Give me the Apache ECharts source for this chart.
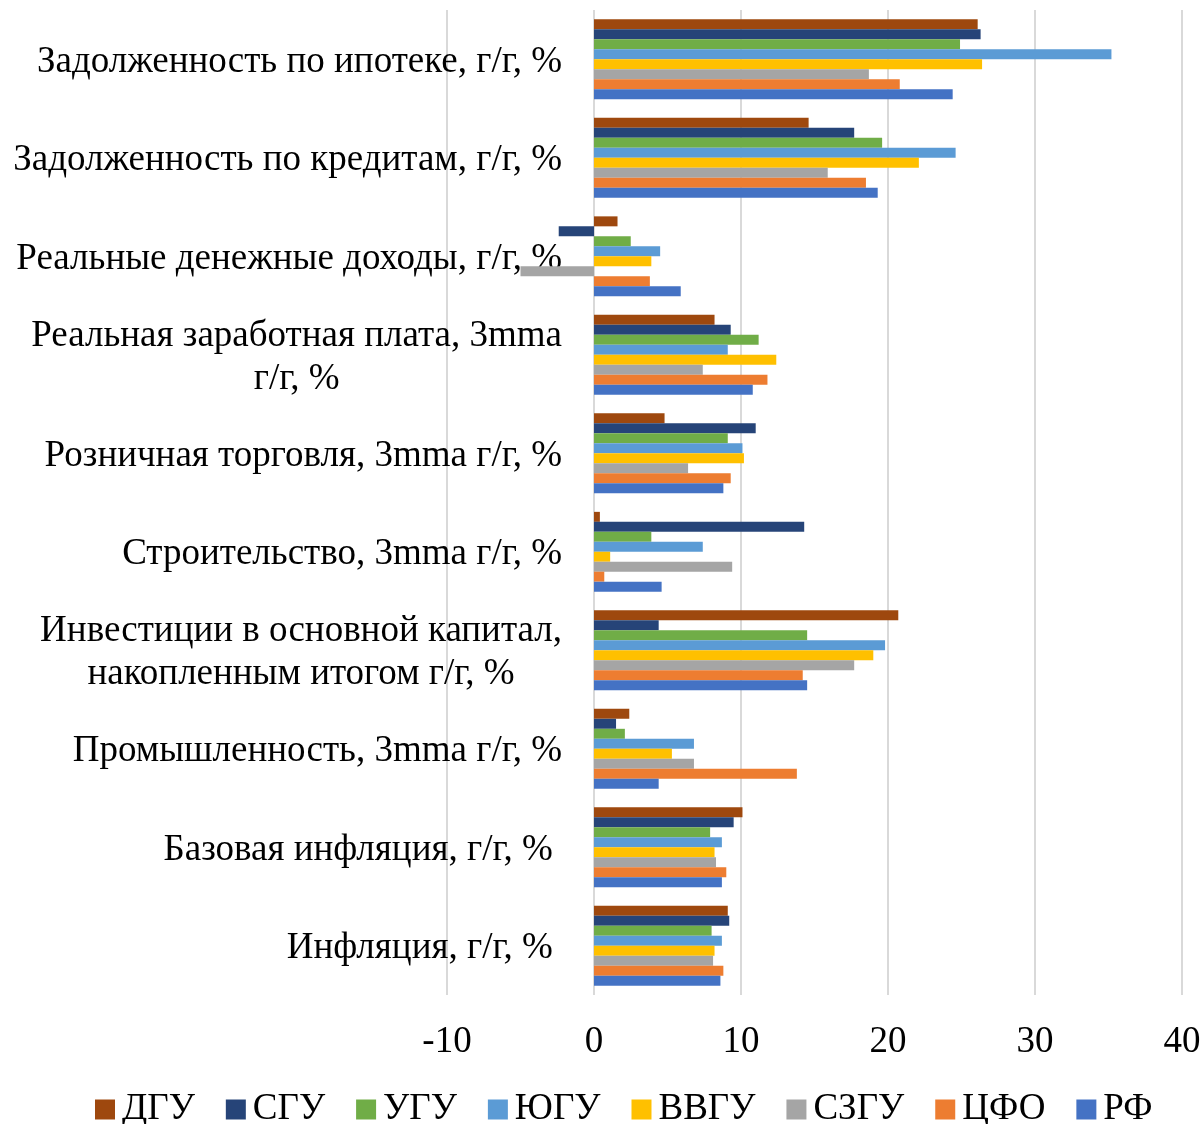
<!DOCTYPE html>
<html>
<head>
<meta charset="utf-8">
<script src="https://cdn.jsdelivr.net/npm/echarts@6/dist/echarts.min.js"></script>
<style>
  html, body { margin: 0; padding: 0; background: #fff; }
  #chart { width: 1204px; height: 1124px; }
</style>
</head>
<body>
<div id="chart"></div>
<script>
// categories, top to bottom
const categories = [
    'Задолженность по ипотеке, г/г, %',
    'Задолженность по кредитам, г/г, %',
    'Реальные денежные доходы, г/г, %',
    'Реальная заработная плата, 3mma\nг/г, %',
    'Розничная торговля, 3mma г/г, %',
    'Строительство, 3mma г/г, %',
    'Инвестиции в основной капитал,\nнакопленным итогом г/г, %',
    'Промышленность, 3mma г/г, %',
    'Базовая инфляция, г/г, % ',
    'Инфляция, г/г, % ',
];

const seriesNames = ['ДГУ', 'СГУ', 'УГУ', 'ЮГУ', 'ВВГУ', 'СЗГУ', 'ЦФО', 'РФ'];
const colors = ['#9E480E', '#264478', '#70AD47', '#5B9BD5', '#FFC000', '#A5A5A5', '#ED7D31', '#4472C4'];

const dgu  = [26.1, 14.6, 1.6, 8.2, 4.8, 0.4, 20.7, 2.4, 10.1, 9.1];
const sgu  = [26.3, 17.7, -2.4, 9.3, 11.0, 14.3, 4.4, 1.5, 9.5, 9.2];
const ugu  = [24.9, 19.6, 2.5, 11.2, 9.1, 3.9, 14.5, 2.1, 7.9, 8.0];
const yugu = [35.2, 24.6, 4.5, 9.1, 10.1, 7.4, 19.8, 6.8, 8.7, 8.7];
const vvgu = [26.4, 22.1, 3.9, 12.4, 10.2, 1.1, 19.0, 5.3, 8.2, 8.2];
const szgu = [18.7, 15.9, -5.0, 7.4, 6.4, 9.4, 17.7, 6.8, 8.3, 8.1];
const cfo  = [20.8, 18.5, 3.8, 11.8, 9.3, 0.7, 14.2, 13.8, 9.0, 8.8];
const rf   = [24.4, 19.3, 5.9, 10.8, 8.8, 4.6, 14.5, 4.4, 8.7, 8.6];

const seriesData = [dgu, sgu, ugu, yugu, vvgu, szgu, cfo, rf];

const FONT = '"Liberation Serif", "Times New Roman", serif';
const FS = 37;

const chart = echarts.init(document.getElementById('chart'), null, { renderer: 'canvas' });

chart.setOption({
    animation: false,
    backgroundColor: '#ffffff',
    grid: {
        left: 447,
        right: 22,
        top: 10,
        bottom: 129,
        containLabel: false,
        outerBoundsMode: 'none',
    },
    legend: {
        top: 1086,
        left: 90,
        itemWidth: 20,
        itemHeight: 20,
        itemGap: 31,
        icon: 'rect',
        textStyle: { fontFamily: FONT, fontSize: FS, color: '#000', padding: [0, 0, 0, 2] },
        data: seriesNames,
    },
    xAxis: {
        type: 'value',
        min: -10,
        max: 40,
        interval: 10,
        axisLine: { show: false },
        axisTick: { show: false },
        splitLine: { lineStyle: { color: '#d9d9d9', width: 2 } },
        axisLabel: { fontFamily: FONT, fontSize: FS, color: '#000', margin: 29 },
    },
    yAxis: {
        type: 'category',
        inverse: true,
        data: categories,
        axisTick: { show: false },
        axisLine: { show: false },
        axisLabel: {
            // labels sit just left of the zero line, inside the grid
            margin: -115,
            padding: [6, 0, 0, 0],
            fontFamily: FONT,
            fontSize: FS,
            color: '#000',
            formatter: (v) => v.split('\n').map((s) => '{c|' + s + '}').join('\n'),
            rich: {
                c: { align: 'center', fontFamily: FONT, fontSize: FS, lineHeight: 43, color: '#000' },
            },
        },
    },
    series: seriesNames.map((name, i) => ({
        name: name,
        type: 'bar',
        data: seriesData[i],
        itemStyle: { color: colors[i] },
        barGap: '0%',
        barCategoryGap: '19%',
    })),
});
</script>
</body>
</html>
